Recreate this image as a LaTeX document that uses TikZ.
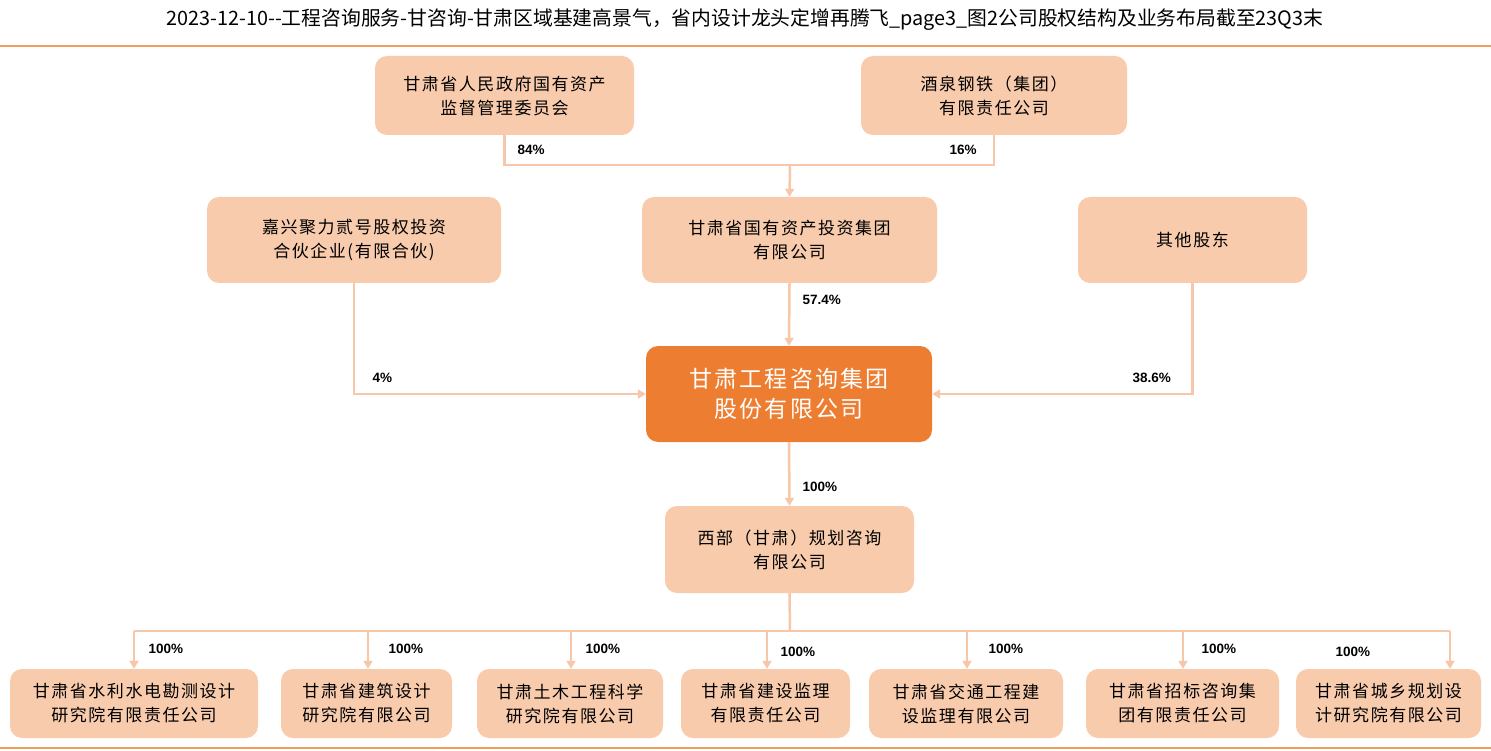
\documentclass[tikz,border=0pt]{standalone}
\usepackage{fontspec}
\setmainfont{Liberation Sans}
\newfontfamily\cjk{Noto Sans CJK SC}
\newfontfamily\cjkbox[LetterSpace=9]{Noto Sans CJK SC}
\usetikzlibrary{arrows.meta}
\definecolor{peach}{HTML}{F8CBAD}
\definecolor{linkc}{HTML}{F6C7A8}
\definecolor{deeporange}{HTML}{ED7D31}
\definecolor{rulec}{HTML}{EB9E5E}
\newcommand{\pct}[2]{\node[pctlabel] at (#1) {#2};}

\begin{document}
\begin{tikzpicture}[x=1pt, y=-1pt,
  box/.style={rectangle, rounded corners=12pt, fill=peach, align=center,
    font=\cjkbox\fontsize{17}{24}\selectfont, inner sep=0pt},
  mainbox/.style={box, fill=deeporange, text=white,
    font=\cjkbox\fontsize{23}{30}\selectfont},
  link/.style={draw=linkc, line width=2.5pt},
  tip/.style={-{Triangle[width=9pt,length=8pt]}},
  pctlabel/.style={anchor=west, font=\bfseries\fontsize{13.5}{15}\selectfont}]
\useasboundingbox (0,0) rectangle (1491,751);
% title and rules
\node[font=\cjk\fontsize{19.8}{22}\selectfont] (title) at (745,20)
  {2023-12-10--工程咨询服务-甘咨询-甘肃区域基建高景气，省内设计龙头定增再腾飞\_page3\_图2公司股权结构及业务布局截至23Q3末};
\draw[rulec, line width=2pt] (0,46) -- (1491,46);
\draw[rulec, line width=2pt] (0,748) -- (1491,748);

% shareholders
\node[box, minimum width=259pt, minimum height=79pt] (sasac) at (504.5,95.5)
  {甘肃省人民政府国有资产\\监督管理委员会};
\node[box, minimum width=266pt, minimum height=79pt] (jiugang) at (994,95.5)
  {酒泉钢铁（集团）\\有限责任公司};
\node[box, minimum width=294pt, minimum height=86pt] (jiaxing) at (354,240)
  {嘉兴聚力贰号股权投资\\合伙企业(有限合伙)};
\node[box, minimum width=295pt, minimum height=86pt] (gstz) at (789.5,240)
  {甘肃省国有资产投资集团\\有限公司};
\node[box, minimum width=229pt, minimum height=86pt] (others) at (1192.5,240)
  {其他股东};
\node[mainbox, minimum width=286pt, minimum height=96pt] (gzx) at (789,394)
  {甘肃工程咨询集团\\股份有限公司};
\node[box, minimum width=249pt, minimum height=87pt] (xibu) at (789.5,549.5)
  {西部（甘肃）规划咨询\\有限公司};

% subsidiaries
\node[box, minimum width=248pt, minimum height=69pt] (c1) at (134,703.5)
  {甘肃省水利水电勘测设计\\研究院有限责任公司};
\node[box, minimum width=171pt, minimum height=69pt] (c2) at (366.5,703.5)
  {甘肃省建筑设计\\研究院有限公司};
\node[box, minimum width=186pt, minimum height=69pt] (c3) at (570,703.5)
  {甘肃土木工程科学\\研究院有限公司};
\node[box, minimum width=169pt, minimum height=69pt] (c4) at (765.5,703.5)
  {甘肃省建设监理\\有限责任公司};
\node[box, minimum width=194pt, minimum height=69pt] (c5) at (966,703.5)
  {甘肃省交通工程建\\设监理有限公司};
\node[box, minimum width=193pt, minimum height=69pt] (c6) at (1182.5,703.5)
  {甘肃省招标咨询集\\团有限责任公司};
\node[box, minimum width=185pt, minimum height=69pt] (c7) at (1388.5,703.5)
  {甘肃省城乡规划设\\计研究院有限公司};

% connectors
\coordinate (top) at (790,165);
\draw[link] (sasac.south) |- (top) -| (jiugang.south);
\draw[link, tip] (top) -- (gstz.north);
\draw[link, tip] (gstz.south) -- (gzx.north);
\draw[link, tip] (jiaxing.south) |- (gzx.west);
\draw[link, tip] (others.south) |- (gzx.east);
\draw[link, tip] (gzx.south) -- (xibu.north);
\coordinate (hub) at (790,631);
\draw[link] (xibu.south) -- (hub);
\draw[link] (134,631) -- (1450,631);
\foreach \n/\x in {c1/134, c2/368, c3/571, c4/767, c5/967, c6/1183, c7/1450}
  \draw[link, tip] (\x,631) -- (\x,0 |- \n.north);

% percentages
\pct{514,150}{84\%}
\pct{946,150}{16\%}
\pct{799,300}{57.4\%}
\pct{369,378}{4\%}
\pct{1129,378}{38.6\%}
\pct{799,487}{100\%}
\foreach \x/\y in {145/649, 385/649, 582/649, 777/652, 985/649, 1198/649, 1332/652}
  {\pct{\x,\y}{100\%}}
\end{tikzpicture}
\end{document}
